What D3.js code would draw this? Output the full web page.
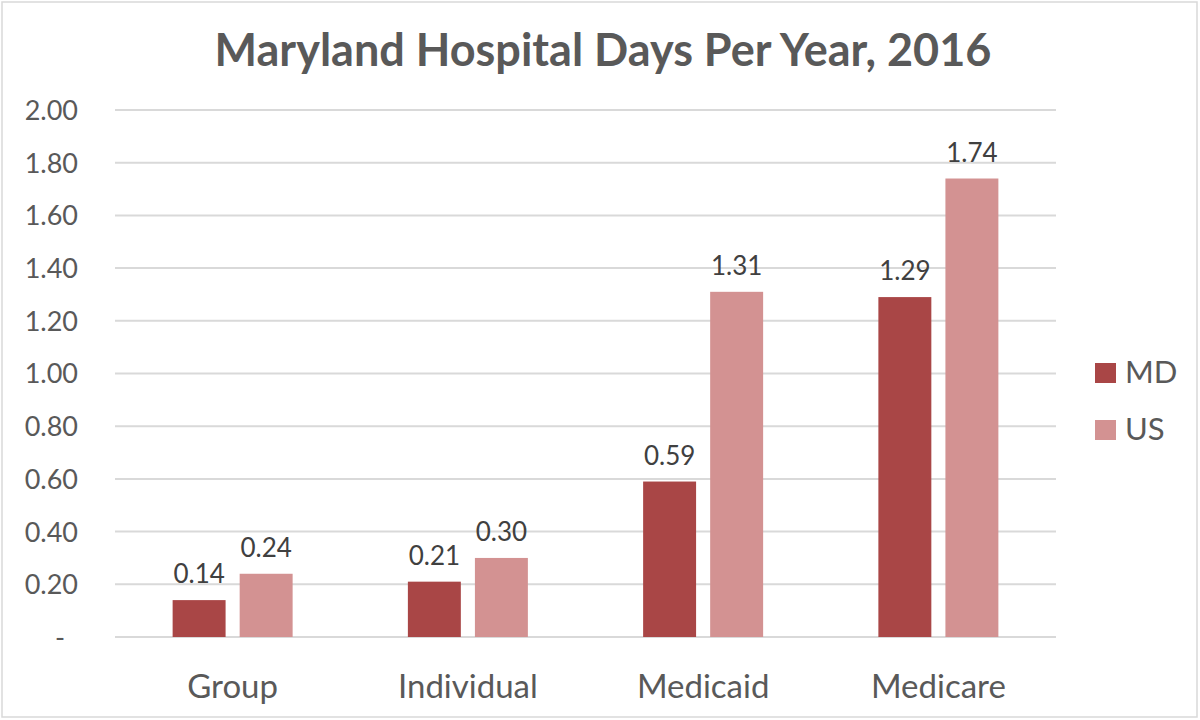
<!DOCTYPE html>
<html>
  <head>
    <meta charset="utf-8" />
    <title>Maryland Hospital Days Per Year, 2016</title>
    <script src="https://d3js.org/d3.v7.min.js"></script>
    <style>
      body { margin: 0; background: #fff; }
      svg { display: block; font-family: Lato, "Open Sans", sans-serif; }
    </style>
  </head>
  <body>
    <svg width="1200" height="720"></svg>
    <script>
      const categories = ["Group", "Individual", "Medicaid", "Medicare"];
      const seriesNames = ["MD", "US"];
      const mdValues = [0.14, 0.21, 0.59, 1.29];
      const usValues = [0.24, 0.30, 1.31, 1.74];
      const tickValues = [0, 0.2, 0.4, 0.6, 0.8, 1.0, 1.2, 1.4, 1.6, 1.8, 2.0];
      const colors = ["#a94646", "#d39292"];

      const svg = d3.select("svg");
      const margin = { left: 115, right: 1056, top: 110, bottom: 637 };

      // chart border
      svg.append("rect")
         .attr("x", 2).attr("y", 2)
         .attr("width", 1195).attr("height", 715)
         .attr("fill", "none")
         .attr("stroke", "#d9d9d9")
         .attr("stroke-width", 1.5);

      svg.append("text")
         .attr("x", 603).attr("y", 66)
         .attr("text-anchor", "middle")
         .attr("font-size", 45)
         .attr("font-weight", "bold")
         .attr("fill", "#595959")
         .text("Maryland Hospital Days Per Year, 2016");

      const y = d3.scaleLinear().domain([0, 2]).range([margin.bottom, margin.top]);
      const x0 = d3.scaleBand().domain(categories).range([margin.left, margin.right]);
      const x1 = d3.scaleBand().domain(seriesNames).range([-60, 60]).paddingInner(0.21);

      // gridlines
      svg.append("g").selectAll("line")
         .data(tickValues)
         .join("line")
         .attr("x1", margin.left).attr("x2", margin.right)
         .attr("y1", d => y(d)).attr("y2", d => y(d))
         .attr("stroke", "#d9d9d9")
         .attr("stroke-width", 2);

      // y tick labels
      const yAxis = d3.axisLeft(y)
                      .tickValues(tickValues)
                      .tickSize(0)
                      .tickPadding(0)
                      .tickFormat(d => d === 0 ? "-" : d3.format(".2f")(d));
      const ya = svg.append("g")
                    .attr("transform", "translate(78,0)")
                    .call(yAxis);
      ya.select(".domain").remove();
      ya.selectAll("text")
        .attr("font-family", "Lato, 'Open Sans', sans-serif")
        .attr("font-size", 27)
        .attr("fill", "#595959")
        .attr("dy", "0.35em");
      ya.selectAll(".tick").filter(d => d === 0).select("text")
        .attr("text-anchor", "middle")
        .attr("x", -18);

      // x axis labels
      const xAxis = d3.axisBottom(x0).tickSize(0).tickPadding(0);
      const xa = svg.append("g")
                    .attr("transform", "translate(0,698)")
                    .call(xAxis);
      xa.select(".domain").remove();
      xa.selectAll("text")
        .attr("font-family", "Lato, 'Open Sans', sans-serif")
        .attr("font-size", 33)
        .attr("fill", "#595959")
        .attr("dy", 0);

      const rows = categories.map((c, i) => ({
        category: c,
        values: [
          { key: "MD", value: mdValues[i], color: colors[0] },
          { key: "US", value: usValues[i], color: colors[1] }
        ]
      }));

      const groups = svg.append("g").selectAll("g")
                        .data(rows)
                        .join("g")
                        .attr("transform", d => "translate(" + (x0(d.category) + x0.bandwidth() / 2) + ",0)");

      groups.selectAll("rect")
            .data(d => d.values)
            .join("rect")
            .attr("x", d => x1(d.key))
            .attr("width", x1.bandwidth())
            .attr("y", d => y(d.value))
            .attr("height", d => y(0) - y(d.value))
            .attr("fill", d => d.color);

      groups.selectAll("text")
            .data(d => d.values)
            .join("text")
            .attr("x", d => x1(d.key) + x1.bandwidth() / 2)
            .attr("y", d => y(d.value) - 17)
            .attr("text-anchor", "middle")
            .attr("font-size", 26)
            .attr("fill", "#404040")
            .text(d => d3.format(".2f")(d.value));

      // legend
      const legend = svg.append("g").attr("transform", "translate(1095,0)");
      seriesNames.forEach((s, i) => {
        const row = legend.append("g").attr("transform", "translate(0," + (363 + i * 57) + ")");
        row.append("rect")
           .attr("width", 21).attr("height", 20)
           .attr("fill", colors[i]);
        row.append("text")
           .attr("x", 30).attr("y", 20)
           .attr("font-size", 31)
           .attr("fill", "#595959")
           .text(s);
      });
    </script>
  </body>
</html>
